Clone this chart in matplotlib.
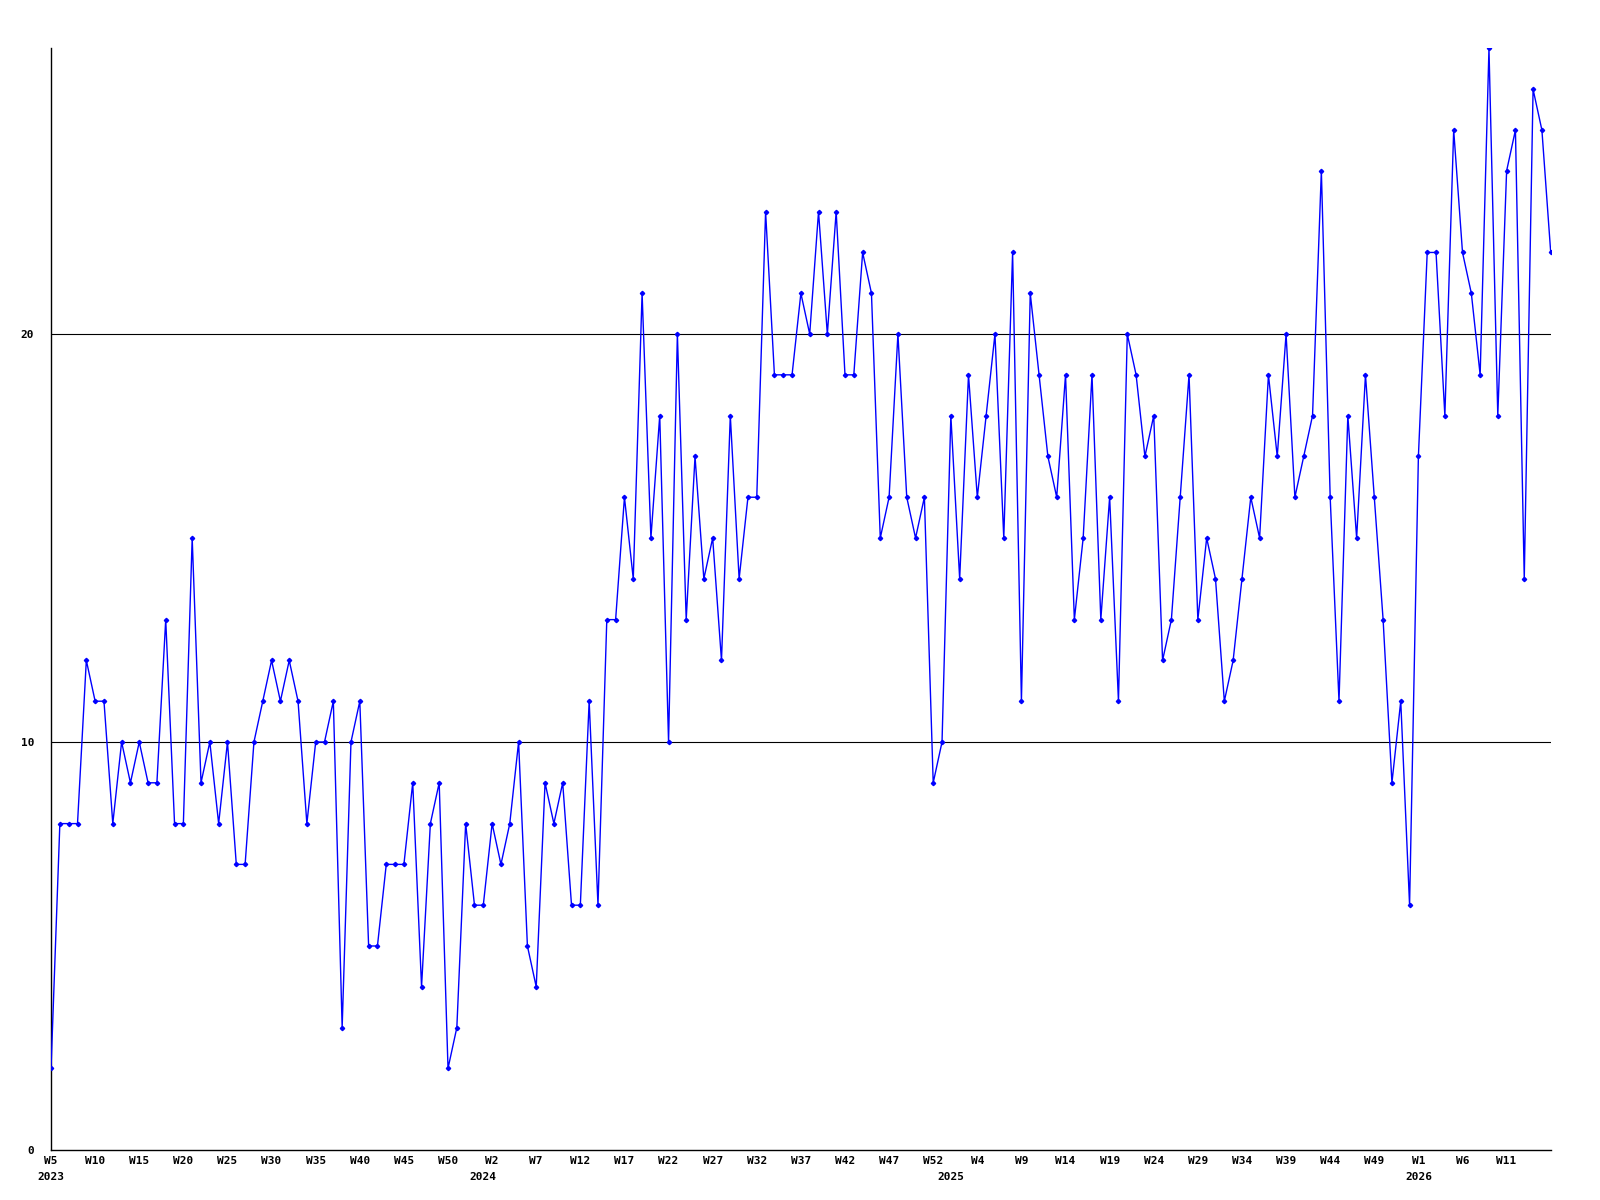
import matplotlib
matplotlib.use('Agg')
import matplotlib.pyplot as plt
import matplotlib.transforms as mtransforms

# weekly counts, 2023 W5 onwards (one value per week)
values_2023 = [2, 8, 8, 8, 12, 11, 11, 8, 10, 9,
               10, 9, 9, 13, 8, 8, 15, 9, 10, 8,
               10, 7, 7, 10, 11, 12, 11, 12, 11, 8,
               10, 10, 11, 3, 10, 11, 5, 5, 7, 7,
               7, 9, 4, 8, 9, 2, 3, 8]
values_2024 = [6, 6, 8, 7, 8, 10, 5, 4, 9, 8,
               9, 6, 6, 11, 6, 13, 13, 16, 14, 21,
               15, 18, 10, 20, 13, 17, 14, 15, 12, 18,
               14, 16, 16, 23, 19, 19, 19, 21, 20, 23,
               20, 23, 19, 19, 22, 21, 15, 16, 20, 16,
               15, 16]
values_2025 = [9, 10, 18, 14, 19, 16, 18, 20, 15, 22,
               11, 21, 19, 17, 16, 19, 13, 15, 19, 13,
               16, 11, 20, 19, 17, 18, 12, 13, 16, 19,
               13, 15, 14, 11, 12, 14, 16, 15, 19, 17,
               20, 16, 17, 18, 24, 16, 11, 18, 15, 19,
               16, 13]
values_2026 = [9, 11, 6, 17, 22, 22, 18, 25, 22, 21,
               19, 27, 18, 24, 25, 14, 26, 25, 22]

# one label every fifth week (the tool counts 53 weeks per year)
tick_labels = ['W5', 'W10', 'W15', 'W20', 'W25', 'W30', 'W35', 'W40', 'W45', 'W50',
               'W2', 'W7', 'W12', 'W17', 'W22', 'W27', 'W32', 'W37', 'W42', 'W47', 'W52',
               'W4', 'W9', 'W14', 'W19', 'W24', 'W29', 'W34', 'W39', 'W44', 'W49',
               'W1', 'W6', 'W11']
years = ['2023', '2024', '2025', '2026']
first_week = 5
weeks_per_year = 53
y_ticks = [0, 10, 20]


def main():
    values = values_2023 + values_2024 + values_2025 + values_2026
    x = list(range(len(values)))

    fig = plt.figure(figsize=(16, 12), dpi=100)
    ax = fig.add_axes([0.0319, 0.0417, 0.9373, 0.9179])

    for level in y_ticks[1:]:
        ax.axhline(level, color='black', lw=0.8, zorder=1)

    ax.plot(x, values, color='#0000ff', lw=1.0, marker='D', ms=2.2,
            mec='#0000ff', mfc='#0000ff', zorder=3)

    ax.set_xlim(0, len(values) - 1)
    ax.set_ylim(0, max(values))

    font = dict(family='DejaVu Sans Mono', fontweight='bold', fontsize=8)
    ax.set_xticks(range(0, 5 * len(tick_labels), 5))
    ax.set_xticklabels(tick_labels, **font)
    ax.set_yticks(y_ticks)
    ax.set_yticklabels([str(v) for v in y_ticks], **font)
    ax.tick_params(axis='x', length=0, pad=4)
    ax.tick_params(axis='y', length=0, pad=12)
    # the first label sits a little left of the axis in the original
    ax.get_xticklabels()[0].set_x(-0.5)

    # year under the first week of each year
    trans = mtransforms.blended_transform_factory(ax.transData, ax.transAxes)
    year_starts = [0] + [weeks_per_year - first_week + 1 + weeks_per_year * k
                         for k in range(len(years) - 1)]
    for pos, year in zip(year_starts, years):
        ax.text(pos, -0.0245, year, transform=trans, ha='center', va='center', **font)

    for side in ('top', 'right'):
        ax.spines[side].set_visible(False)
    for side in ('left', 'bottom'):
        ax.spines[side].set_linewidth(1.0)
        ax.spines[side].set_color('black')

    fig.savefig('out.png', dpi=100, facecolor='white')


if __name__ == '__main__':
    main()
